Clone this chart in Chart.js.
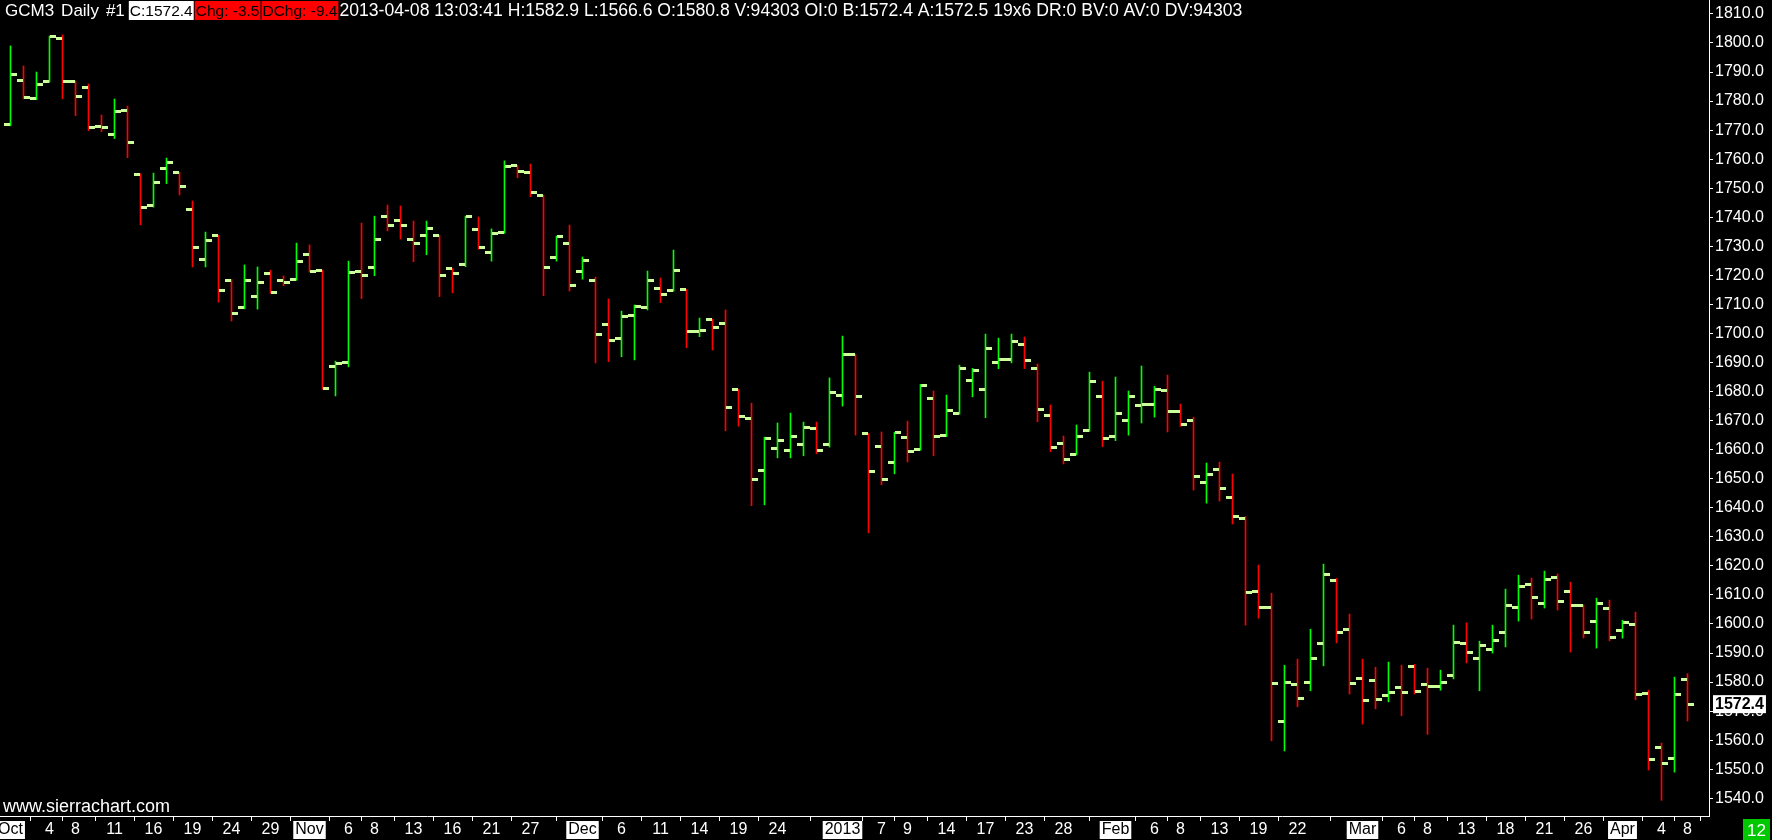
<!DOCTYPE html>
<html>
<head>
<meta charset="utf-8">
<script src="https://cdn.jsdelivr.net/npm/chart.js@4.4.1/dist/chart.umd.min.js"></script>
<style>
html, body { margin: 0; padding: 0; background: #000; }
#wrap { width: 1772px; height: 840px; }
</style>
</head>
<body>
<div id="wrap"><canvas id="chart" width="1772" height="840"></canvas></div>
<script>
var dates = [
	'2012-10-01','2012-10-02','2012-10-03','2012-10-04','2012-10-05','2012-10-08','2012-10-09','2012-10-10','2012-10-11','2012-10-12',
	'2012-10-15','2012-10-16','2012-10-17','2012-10-18','2012-10-19','2012-10-22','2012-10-23','2012-10-24','2012-10-25','2012-10-26',
	'2012-10-29','2012-10-30','2012-10-31','2012-11-01','2012-11-02','2012-11-05','2012-11-06','2012-11-07','2012-11-08','2012-11-09',
	'2012-11-12','2012-11-13','2012-11-14','2012-11-15','2012-11-16','2012-11-19','2012-11-20','2012-11-21','2012-11-23','2012-11-26',
	'2012-11-27','2012-11-28','2012-11-29','2012-11-30','2012-12-03','2012-12-04','2012-12-05','2012-12-06','2012-12-07','2012-12-10',
	'2012-12-11','2012-12-12','2012-12-13','2012-12-14','2012-12-17','2012-12-18','2012-12-19','2012-12-20','2012-12-21','2012-12-24',
	'2012-12-26','2012-12-27','2012-12-28','2012-12-31','2013-01-02','2013-01-03','2013-01-04','2013-01-07','2013-01-08','2013-01-09',
	'2013-01-10','2013-01-11','2013-01-14','2013-01-15','2013-01-16','2013-01-17','2013-01-18','2013-01-22','2013-01-23','2013-01-24',
	'2013-01-25','2013-01-28','2013-01-29','2013-01-30','2013-01-31','2013-02-01','2013-02-04','2013-02-05','2013-02-06','2013-02-07',
	'2013-02-08','2013-02-11','2013-02-12','2013-02-13','2013-02-14','2013-02-15','2013-02-19','2013-02-20','2013-02-21','2013-02-22',
	'2013-02-25','2013-02-26','2013-02-27','2013-02-28','2013-03-01','2013-03-04','2013-03-05','2013-03-06','2013-03-07','2013-03-08',
	'2013-03-11','2013-03-12','2013-03-13','2013-03-14','2013-03-15','2013-03-18','2013-03-19','2013-03-20','2013-03-21','2013-03-22',
	'2013-03-25','2013-03-26','2013-03-27','2013-03-28','2013-04-01','2013-04-02','2013-04-03','2013-04-04','2013-04-05','2013-04-08'
]

var opens = [
	1772.0,1787.2,1781.0,1786.8,1801.6,1786.8,1784.8,1771.4,1768.6,1776.8,
	1754.8,1744.1,1756.9,1755.3,1742.7,1725.5,1733.6,1718.4,1709.0,1712.8,
	1720.7,1718.3,1718.6,1727.3,1721.6,1688.5,1690.0,1721.4,1722.8,1740.3,
	1739.0,1732.4,1733.8,1733.6,1722.3,1723.8,1735.9,1727.9,1734.8,1757.7,
	1755.5,1747.5,1726.2,1731.0,1721.4,1718.3,1703.1,1698.3,1706.2,1709.0,
	1715.5,1714.9,1715.0,1700.7,1704.8,1703.5,1680.6,1670.8,1652.9,1660.4,
	1659.8,1661.8,1667.3,1661.8,1678.7,1692.6,1665.5,1661.1,1655.6,1664.2,
	1660.1,1677.7,1664.9,1672.5,1683.9,1680.8,1690.1,1691.1,1696.3,1688.0,
	1671.8,1662.2,1658.4,1666.6,1678.4,1664.6,1670.1,1675.3,1675.6,1680.4,
	1673.2,1670.1,1648.7,1653.2,1643.6,1636.3,1611.2,1605.7,1566.4,1579.2,
	1579.9,1593.3,1615.0,1598.1,1581.2,1580.6,1575.4,1578.1,1585.4,1579.2,
	1578.5,1582.4,1593.3,1588.1,1591.2,1597.2,1605.7,1613.7,1607.1,1616.1,
	1611.2,1606.4,1600.9,1605.4,1597.8,1599.9,1576.1,1557.5,1553.7,1580.8
]

var highs = [
	1799.0,1792.1,1790.0,1802.4,1802.8,1786.9,1785.9,1775.2,1780.7,1778.3,
	1755.0,1755.2,1760.4,1755.5,1745.6,1734.9,1733.8,1718.6,1723.6,1722.9,
	1721.8,1719.8,1731.1,1730.5,1721.8,1690.5,1724.9,1738.0,1740.4,1744.2,
	1743.9,1738.7,1738.7,1733.8,1722.4,1740.4,1740.1,1736.0,1759.4,1757.9,
	1758.3,1747.6,1733.5,1737.3,1726.3,1719.4,1711.9,1707.7,1709.8,1721.5,
	1719.1,1728.7,1715.2,1705.3,1704.9,1708.1,1680.8,1676.0,1664.3,1669.2,
	1672.6,1669.5,1669.5,1684.7,1699.1,1692.8,1665.6,1666.1,1666.0,1669.8,
	1682.5,1680.2,1678.8,1689.1,1688.0,1699.8,1698.4,1699.8,1698.8,1689.5,
	1675.4,1664.7,1668.5,1686.7,1683.6,1685.0,1680.2,1688.8,1681.8,1685.7,
	1675.7,1671.2,1655.4,1655.7,1651.6,1637.0,1620.3,1610.6,1585.8,1587.9,
	1598.2,1620.6,1615.7,1603.4,1587.9,1585.1,1586.9,1585.8,1586.1,1584.8,
	1584.1,1599.6,1600.4,1594.1,1599.6,1612.0,1616.8,1615.8,1618.2,1617.2,
	1614.4,1606.6,1608.9,1608.2,1601.3,1604.1,1577.2,1559.0,1581.7,1582.9
]

var lows = [
	1771.5,1780.8,1780.5,1786.5,1780.8,1775.0,1769.8,1769.5,1767.1,1760.5,
	1737.4,1743.5,1751.6,1747.7,1722.9,1722.9,1710.8,1704.3,1708.5,1708.4,
	1713.8,1716.4,1718.3,1721.2,1680.8,1678.5,1688.5,1712.0,1719.9,1735.3,
	1732.5,1724.7,1727.1,1712.7,1714.0,1723.0,1729.0,1724.9,1734.5,1753.6,
	1747.1,1713.0,1724.9,1714.6,1718.7,1689.9,1690.3,1692.0,1690.9,1708.1,
	1710.6,1714.5,1695.1,1698.9,1694.3,1666.5,1668.1,1640.7,1641.0,1657.2,
	1657.2,1657.9,1658.6,1660.9,1675.0,1665.0,1631.4,1647.9,1651.7,1655.8,
	1659.8,1657.9,1664.5,1672.2,1678.2,1671.0,1687.9,1689.9,1687.9,1669.6,
	1659.3,1655.1,1658.2,1666.3,1661.0,1663.1,1665.0,1669.2,1671.2,1666.1,
	1668.0,1646.1,1641.6,1642.3,1634.4,1599.6,1602.0,1559.8,1556.3,1571.5,
	1577.0,1585.6,1593.5,1575.9,1565.5,1570.8,1573.2,1568.4,1575.9,1562.0,
	1577.2,1581.1,1586.6,1577.0,1590.0,1592.1,1601.0,1601.7,1605.5,1604.8,
	1590.3,1595.2,1591.7,1594.2,1595.1,1573.9,1549.7,1539.3,1549.0,1566.6
]

var closes = [
	1789.2,1781.3,1785.8,1802.3,1786.8,1781.7,1771.0,1771.0,1776.5,1765.8,
	1743.4,1752.0,1758.9,1750.7,1729.7,1732.1,1714.9,1706.9,1718.3,1717.6,
	1714.2,1717.6,1724.8,1721.4,1681.1,1689.5,1721.1,1720.0,1732.4,1737.2,
	1737.2,1731.0,1736.2,1720.0,1720.7,1740.3,1729.7,1734.5,1757.6,1755.8,
	1748.6,1722.8,1733.4,1716.6,1725.2,1699.7,1697.6,1705.9,1709.3,1718.3,
	1713.5,1721.7,1700.7,1700.9,1702.1,1674.6,1671.5,1649.8,1663.9,1663.2,
	1664.6,1667.7,1659.8,1679.7,1692.8,1678.4,1652.5,1649.8,1665.8,1659.4,
	1682.1,1664.6,1673.5,1688.0,1687.3,1694.9,1691.1,1697.3,1690.7,1673.9,
	1660.8,1656.7,1664.6,1683.5,1663.9,1672.5,1678.4,1675.4,1680.8,1673.2,
	1668.7,1650.8,1651.5,1646.7,1637.0,1610.9,1605.7,1579.5,1579.9,1574.4,
	1588.1,1617.1,1597.1,1579.5,1573.7,1574.0,1576.4,1576.4,1576.8,1578.5,
	1579.9,1593.7,1590.3,1592.6,1594.3,1606.4,1613.0,1609.1,1615.3,1607.8,
	1606.4,1597.1,1607.1,1595.4,1600.5,1575.7,1553.4,1552.0,1575.7,1572.4
]

var priceTicks = [1810, 1800, 1790, 1780, 1770, 1760, 1750, 1740, 1730, 1720, 1710, 1700, 1690, 1680,
	1670, 1660, 1650, 1640, 1630, 1620, 1610, 1600, 1590, 1580, 1570, 1560, 1550, 1540]

var tickDates = [
	'2012-10-01','2012-10-04','2012-10-08','2012-10-11','2012-10-16','2012-10-19','2012-10-24','2012-10-29',
	'2012-11-01','2012-11-06','2012-11-08','2012-11-13','2012-11-16','2012-11-21','2012-11-27',
	'2012-12-03','2012-12-06','2012-12-11','2012-12-14','2012-12-19','2012-12-24',
	'2013-01-02','2013-01-07','2013-01-09','2013-01-14','2013-01-17','2013-01-23','2013-01-28',
	'2013-02-01','2013-02-06','2013-02-08','2013-02-13','2013-02-19','2013-02-22',
	'2013-03-01','2013-03-06','2013-03-08','2013-03-13','2013-03-18','2013-03-21','2013-03-26',
	'2013-04-01','2013-04-04','2013-04-08'
]
var tickTexts = [
	'Oct','4','8','11','16','19','24','29',
	'Nov','6','8','13','16','21','27',
	'Dec','6','11','14','19','24',
	'2013','7','9','14','17','23','28',
	'Feb','6','8','13','19','22',
	'Mar','6','8','13','18','21','26',
	'Apr','4','8'
]
var monthTexts = ['Oct', 'Nov', 'Dec', '2013', 'Feb', 'Mar', 'Apr']

var headerTexts = ['GCM3', 'Daily', '#1', 'C:1572.4', 'Chg: -3.5', 'DChg: -9.4',
	'2013-04-08 13:03:41 H:1582.9 L:1566.6 O:1580.8 V:94303 OI:0 B:1572.4 A:1572.5 19x6 DR:0 BV:0 AV:0 DV:94303']
var headerFills = [null, null, null, '#ffffff', '#ff0000', '#ff0000', null]
var headerInks = ['#ffffff', '#ffffff', '#ffffff', '#000000', '#000000', '#000000', '#ffffff']

var FONT = '"Liberation Sans", Arial, sans-serif'
var upColor = '#00ff00'
var downColor = '#ff0000'
var tickColor = '#ccff99'

var tickIdx = tickDates.map(function(d) { return dates.indexOf(d) })
var lastClose = closes[closes.length - 1]

function isMonth(v)
{
	var k = tickIdx.indexOf(v)
	return k >= 0 && monthTexts.indexOf(tickTexts[k]) >= 0
}

function tickImage(side)
{
	var c = document.createElement('canvas')
	c.width = 13
	c.height = 3
	var g = c.getContext('2d')
	g.fillStyle = tickColor
	g.fillRect(side == 'open' ? 0 : 7, 0, 6, 3)
	return c
}

var overlay = {
	id: 'overlay',
	afterDraw: function(chart)
	{
		var g = chart.ctx
		g.save()
		g.textBaseline = 'alphabetic'
		var x = 5
		for (var i = 0; i < headerTexts.length; i++)
		{
			if (headerFills[i])
			{
				g.font = '15.5px ' + FONT
				var w = g.measureText(headerTexts[i]).width
				g.fillStyle = headerFills[i]
				g.fillRect(x, 1, w + 2, 19)
				g.fillStyle = headerInks[i]
				g.fillText(headerTexts[i], x + 1, 16)
				x += w + 3
			}
			else
			{
				g.font = (i < 3 ? '17px ' : '17.6px ') + FONT
				var w2 = g.measureText(headerTexts[i]).width
				g.fillStyle = headerInks[i]
				g.fillText(headerTexts[i], x, 16)
				x += w2 + (i < 2 ? 7 : 4)
			}
		}

		g.font = '18px ' + FONT
		g.fillStyle = '#ffffff'
		g.fillText('www.sierrachart.com', 3, 812)

		g.fillStyle = '#00c800'
		g.fillRect(1743, 819, 27, 21)
		g.fillStyle = '#ffffff'
		g.font = '17px ' + FONT
		g.textAlign = 'center'
		g.fillText('12', 1756.5, 836)
		g.restore()
	}
}

var barColors = opens.map(function(o, i) { return closes[i] >= o ? upColor : downColor })

new Chart(document.getElementById('chart'), {
	type: 'bar',
	data: {
		datasets: [
			{
				type: 'scatter',
				data: dates.map(function(d, i) { return {x: i, y: opens[i]} }),
				pointStyle: tickImage('open'),
				pointRadius: 3,
				order: 0
			},
			{
				type: 'scatter',
				data: dates.map(function(d, i) { return {x: i, y: closes[i]} }),
				pointStyle: tickImage('close'),
				pointRadius: 3,
				order: 0
			},
			{
				type: 'bar',
				data: dates.map(function(d, i) { return {x: i, y: [lows[i], highs[i]]} }),
				backgroundColor: barColors,
				borderWidth: 0,
				barThickness: 1,
				maxBarThickness: 1,
				order: 1
			}
		]
	},
	options: {
		responsive: false,
		animation: false,
		devicePixelRatio: 1,
		events: [],
		layout: { padding: 0, autoPadding: false },
		plugins: {
			legend: { display: false },
			tooltip: { enabled: false }
		},
		scales: {
			x: {
				type: 'linear',
				position: 'bottom',
				offset: false,
				min: -10.5 / 13,
				max: -10.5 / 13 + 1709 / 13,
				afterBuildTicks: function(s) { s.ticks = tickIdx.map(function(v) { return {value: v} }) },
				afterFit: function(s) { s.height = 24; s.paddingLeft = 0; s.paddingRight = 0 },
				border: { display: true, color: '#ffffff', width: 1 },
				grid: { display: true, drawOnChartArea: false, drawTicks: true, tickLength: 5, color: '#ffffff' },
				ticks: {
					autoSkip: false,
					maxRotation: 0,
					minRotation: 0,
					padding: 1,
					font: { family: FONT, size: 16, lineHeight: 1 },
					color: function(c) { return isMonth(c.tick.value) ? '#000000' : '#ffffff' },
					showLabelBackdrop: function(c) { return isMonth(c.tick.value) },
					backdropColor: '#ffffff',
					backdropPadding: { left: 2, right: 2, top: 1, bottom: 1 },
					callback: function(v) { return tickTexts[tickIdx.indexOf(v)] }
				}
			},
			y: {
				type: 'linear',
				position: 'right',
				min: 1533.9,
				max: 1814.8,
				afterBuildTicks: function(s) {
					s.ticks = priceTicks.map(function(v) { return {value: v} })
					s.ticks.push({value: lastClose})
				},
				afterFit: function(s) { s.width = 63; s.paddingTop = 0; s.paddingBottom = 0 },
				border: { display: true, color: '#ffffff', width: 1 },
				grid: {
					display: true, drawOnChartArea: false, drawTicks: true, tickLength: 4,
					color: function(c) { return c.tick && c.tick.value === lastClose ? 'rgba(0,0,0,0)' : '#ffffff' }
				},
				ticks: {
					autoSkip: false,
					padding: 2,
					font: function(c) {
						return { family: FONT, size: 16, lineHeight: 1, weight: c.tick && c.tick.value === lastClose ? 'bold' : 'normal' }
					},
					color: function(c) { return c.tick.value === lastClose ? '#000000' : '#ffffff' },
					showLabelBackdrop: function(c) { return c.tick.value === lastClose },
					backdropColor: '#ffffff',
					backdropPadding: { left: 2, right: 2, top: 1, bottom: 1 },
					callback: function(v) { return v.toFixed(1) }
				}
			}
		}
	},
	plugins: [overlay]
})
</script>
</body>
</html>
